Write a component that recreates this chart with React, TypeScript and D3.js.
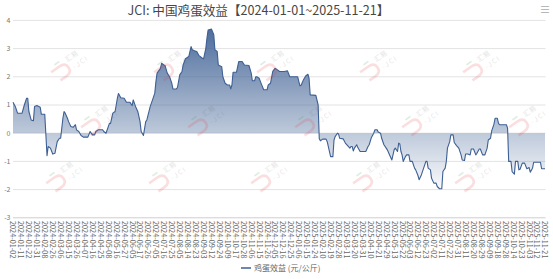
import React from "react";
import * as d3 from "d3";

const TITLE = "JCI: 中国鸡蛋效益【2024-01-01~2025-11-21】";
const SERIES_NAME = "鸡蛋效益 (元/公斤)";
const TOTAL_DAYS = 470;

const tickLabels = [
  "2024-01-02","2024-01-11","2024-01-22","2024-01-31","2024-02-08","2024-02-26","2024-03-06","2024-03-15","2024-03-26","2024-04-07",
  "2024-04-16","2024-04-25","2024-05-08","2024-05-16","2024-05-27","2024-06-05","2024-06-17","2024-06-26","2024-07-05","2024-07-16",
  "2024-07-25","2024-08-05","2024-08-14","2024-08-23","2024-09-03","2024-09-12","2024-09-24","2024-10-09","2024-10-17","2024-10-28",
  "2024-11-06","2024-11-15","2024-11-26","2024-12-05","2024-12-16","2024-12-25","2025-01-06","2025-01-15","2025-01-24","2025-02-10",
  "2025-02-19","2025-02-28","2025-03-11","2025-03-20","2025-03-31","2025-04-10","2025-04-21","2025-04-29","2025-05-13","2025-05-22",
  "2025-06-03","2025-06-12","2025-06-23","2025-07-02","2025-07-11","2025-07-22","2025-07-31","2025-08-11","2025-08-20","2025-08-29",
  "2025-09-09","2025-09-18","2025-09-28","2025-10-14","2025-10-23","2025-11-03","2025-11-12","2025-11-21"
];

const yTicks = [-3, -2, -1, 0, 1, 2, 3, 4];

// trading-day index of each read vertex
const dayIndex = [
  0,2,4,8,10,12,13,14,16,18,19,21,24,25,28,30,31,33,35,37,39,41,42,44,45,46,48,49,51,53,55,56,58,60,62,66,68,70,72,73,75,79,80,82,85,86,88,90,92,93,95,98,100,103,105,106,108,110,112,113,115,
  117,118,121,123,125,126,127,130,131,133,134,136,138,140,141,144,145,147,149,150,152,155,157,158,160,162,164,167,168,170,171,172,175,177,178,180,181,184,185,187,189,191,192,193,194,197,199,202,204,208,210,211,213,214,215,217,219,221,224,225,227,229,231,232,235,
  236,239,242,244,251,252,253,254,256,258,260,261,262,267,269,270,271,273,276,277,279,280,282,283,284,286,287,288,291,293,295,297,298,299,300,301,303,304,306,311,313,314,316,318,319,321,322,324,325,327,329,330,332,334,336,337,339,340,341,342,343,344,346,347,349,350,
  352,354,355,357,358,360,362,364,365,366,368,369,371,373,374,376,378,379,381,382,383,385,386,388,389,391,393,395,396,398,399,401,403,404,406,408,409,411,412,414,416,418,419,421,422,424,425,427,428,429,435,436,437,439,440,442,443,445,446,447,449,451,453,455,456,458,459,465,466,469
];

// egg profit value (yuan/kg) at each vertex
const profit = [
  1.1,0.95,0.71,0.71,1.0,1.24,1.24,0.77,0.47,0.44,0.95,0.98,0.92,0.67,0.67,-0.8,-0.47,-0.53,-0.74,-0.71,-0.3,-0.18,-0.18,0.53,0.77,0.71,0.53,0.41,0.24,0.21,0.3,0.12,0.06,-0.08,-0.14,-0.14,0.06,-0.06,-0.06,0.06,0.12,0.12,0.06,0.0,0.35,0.35,0.71,0.77,1.24,1.41,1.26,1.24,1.1,1.1,0.98,1.18,0.95,0.77,0.41,0.06,-0.08,
  0.41,0.47,0.95,1.18,1.42,1.83,2.13,2.3,2.48,2.42,2.4,2.13,2.0,1.77,1.57,1.57,1.62,2.07,2.19,2.42,2.64,2.72,3.07,2.96,2.92,2.9,2.75,2.66,2.64,3.01,3.37,3.66,3.69,3.49,2.96,2.9,2.42,2.36,2.0,1.77,1.71,1.71,1.57,1.71,2.16,2.16,2.54,2.54,2.42,2.4,2.13,1.86,1.86,2.0,2.0,1.95,1.74,1.54,1.54,1.71,1.77,2.19,2.3,2.28,2.19,
  2.19,2.19,2.21,2.0,2.0,1.83,1.68,1.7,1.89,2.03,2.09,1.95,1.36,1.34,1.0,-0.2,-0.27,-0.21,-0.21,-0.3,-0.65,-0.83,-0.83,-0.24,-0.12,0.0,-0.03,-0.18,-0.2,-0.35,-0.44,-0.53,-0.47,-0.47,-0.63,-0.53,-0.41,-0.51,-0.65,-0.65,-0.47,-0.41,-0.15,0.0,0.12,0.12,0.04,0.0,-0.18,-0.41,-0.53,-0.59,-0.77,-0.95,-0.59,-0.53,-0.65,-0.35,-0.38,-0.65,-0.77,-1.0,-0.83,-0.77,-0.77,-1.0,
  -1.0,-1.24,-1.3,-1.5,-1.65,-1.48,-1.24,-1.0,-1.0,-1.24,-1.3,-1.6,-1.77,-1.77,-1.89,-1.97,-1.97,-1.36,-1.24,-1.0,-0.53,-0.3,-0.06,-0.06,-0.33,-0.44,-0.53,-0.77,-0.95,-0.97,-0.74,-0.74,-0.77,-0.56,-0.56,-0.77,-0.71,-0.56,-0.56,-0.77,-0.77,-0.53,-0.24,-0.18,0.08,0.32,0.53,0.53,0.35,0.3,0.3,0.18,-1.0,-1.0,-1.36,-1.45,-1.0,-1.0,-1.3,-1.28,-1.06,-1.06,-1.26,-1.22,-1.38,-1.24,-1.03,-1.03,-1.26,-1.26
];

// watermark rows (logo anchor positions)
const wmRowY = [72, 127, 183];
const wmRowX = [
  [62, 165, 268, 371, 474],
  [92, 199, 306, 413, 520],
  [57, 160, 262, 364, 466]
];

const W = 553, H = 279;
const FONT = "'Noto Sans CJK SC', 'Noto Sans', sans-serif";

function Watermark({ cx, cy }: { cx: number; cy: number }) {
  return (
    <g transform={`translate(${cx},${cy}) rotate(-35)`} opacity={0.16}>
      <path d="M -9,-6 L 1,-6 Q 8,-6 8,0 Q 8,6 1,6 L -6,6" fill="none" stroke="#e8383d" strokeWidth={2.6} />
      <rect x={-2} y={-11} width={6} height={1.6} fill="#2e9a3e" />
      <text x={10} y={-5} fontFamily={FONT} fontSize={7} fill="#555">汇易</text>
      <text x={12} y={5} fontFamily={FONT} fontSize={6.5} fill="#555" letterSpacing={1.5}>-JCI</text>
    </g>
  );
}

export default function App() {
  const x = d3.scaleLinear().domain([0, TOTAL_DAYS - 1]).range([13, 545]);
  const y = d3.scaleLinear().domain([-3, 4]).range([217.8, 20.4]);
  const pts = dayIndex.map((d, i) => [d, profit[i]] as [number, number]);
  const line = d3.line<[number, number]>().x(d => x(d[0])).y(d => y(d[1]));
  const area = d3.area<[number, number]>().x(d => x(d[0])).y0(y(0)).y1(d => y(d[1]));
  const maxV = d3.max(profit) as number;
  const minV = d3.min(profit) as number;
  const lineColor = "#3d5f93";

  return (
    <svg width={W} height={H} style={{ position: "absolute", left: 0, top: 0, background: "#fff" }}>
      <defs>
        <linearGradient id="ag" gradientUnits="userSpaceOnUse" x1="0" x2="0" y1={y(maxV)} y2={y(minV)}>
          <stop offset="0" stopColor="#3f6194" stopOpacity={0.92} />
          <stop offset="1" stopColor="#3f6194" stopOpacity={0.03} />
        </linearGradient>
      </defs>
      <text x={258.5} y={15} textAnchor="middle" fontFamily={FONT} fontSize={12.6} fill="#464646">{TITLE}</text>
      <text x={545} y={14} textAnchor="middle" fontFamily={FONT} fontSize={11} fill="#aaa">≡</text>
      {yTicks.map(t => (
        <g key={t}>
          <line x1={13} x2={545.5} y1={y(t)} y2={y(t)} stroke={t === -3 ? "#cfcfcf" : "#e3e3e3"} strokeWidth={1} />
          <text x={10.5} y={y(t)} dy="0.35em" textAnchor="end" fontFamily={FONT} fontSize={7} fill="#777">{t}</text>
        </g>
      ))}
      <path d={area(pts) || ""} fill="url(#ag)" />
      <path d={line(pts) || ""} fill="none" stroke={lineColor} strokeWidth={1.1} strokeLinejoin="round" />
      {wmRowY.map((wy, r) => wmRowX[r].map(wx => <Watermark key={`${r}-${wx}`} cx={wx} cy={wy} />))}
      {tickLabels.map((lab, k) => (
        <text key={lab} transform={`translate(${x(k * 7)},221) rotate(90)`} dy="0.35em" textAnchor="start"
          fontFamily={FONT} fontSize={7.3} fill="#666">{lab}</text>
      ))}
      <line x1={241} x2={251} y1={268} y2={268} stroke={lineColor} strokeWidth={1.5} />
      <text x={254} y={268} dy="0.35em" fontFamily={FONT} fontSize={8} fill="#666">{SERIES_NAME}</text>
    </svg>
  );
}
